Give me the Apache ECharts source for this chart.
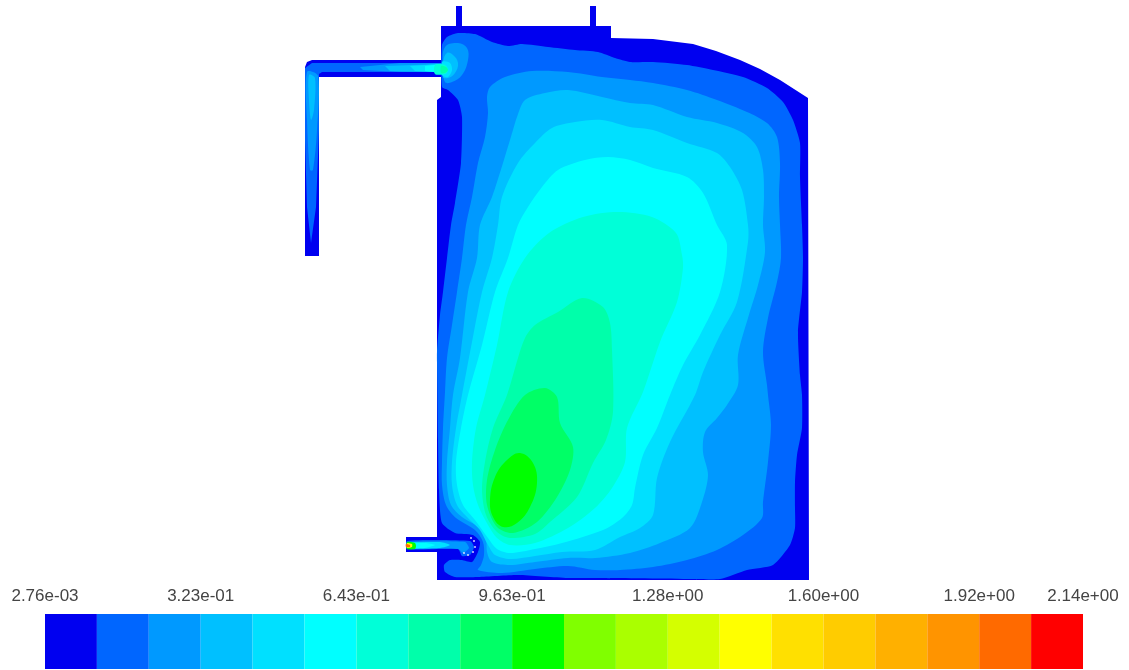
<!DOCTYPE html>
<html>
<head>
<meta charset="utf-8">
<style>html,body{margin:0;padding:0;background:#fff}#c{width:1129px;height:670px}</style>
<script src="https://cdn.jsdelivr.net/npm/echarts@6/dist/echarts.min.js"></script>
</head>
<body>
<div id="c"></div>
<script>
const bandColors = ['#0000f0','#0066ff','#0099ff','#00c0ff','#00e0ff','#00ffff','#00ffd8','#00ffaa','#00ff66','#00ff00','#80ff00','#aaff00','#d4ff00','#ffff00','#ffe000','#ffcc00','#ffb000','#ff9400','#ff6a00','#ff0000'];
const tickLabels = {0:'2.76e-03',3:'3.23e-01',6:'6.43e-01',9:'9.63e-01',12:'1.28e+00',15:'1.60e+00',18:'1.92e+00',20:'2.14e+00'};

const tankOutline = [[441,26],[456,26],[456,6],[462,6],[462,26],[590,26],[590,6],[596,6],[596,26],[611,26],[611,38],[653,39],[693,44],[716,51],[740,60],[760,69],[780,80],[808,98],[809,580],[437,580],[437,100],[441,97]];
const topPipeOutline = [[441,60],[312,60],[307,62],[305,67],[305,256],[319,256],[319,77],[441,77]];
const lowPipeOutline = [[406,537],[438,537],[438,552],[406,552]];

const tankL2 = [[442,45],[447,37],[458,33],[475,34],[492,42],[508,46],[522,44],[548,47],[575,50],[598,52],[615,58],[630,62],[653,62],[687,65],[713,70],[743,77],[767,88],[783,102],[793,120],[800,143],[800,177],[802,225],[803,258],[802,292],[798,332],[800,375],[802,395],[802,428],[797,455],[795,482],[795,508],[795,528],[790,545],[773,565],[747,570],[720,579],[692,579],[598,578],[568,578],[518,575],[478,577],[455,577],[445,572],[444,565],[450,560],[462,560],[472,562],[478,552],[480,542],[473,535],[455,533],[442,523],[439,490],[438,440],[437,362],[437,352],[440,315],[443,292],[447,258],[451,225],[455,203],[461,163],[462,117],[458,100],[448,90],[442,87]];
const tankL3 = [[487,97],[490,87],[505,77],[532,71],[568,72],[602,77],[630,80],[653,83],[687,90],[717,100],[747,112],[767,123],[777,137],[780,163],[779,197],[780,225],[781,258],[777,282],[768,318],[763,352],[767,385],[768,395],[771,425],[768,462],[763,502],[762,518],[743,535],[717,550],[687,560],[653,567],[620,570],[595,570],[568,566],[535,569],[502,573],[478,570],[481,565],[484,555],[483,542],[475,530],[456,518],[446,505],[442,485],[442,462],[443,428],[445,392],[447,358],[452,325],[457,292],[462,258],[466,225],[472,197],[478,163],[485,137],[488,113]];
const tankL4 = [[517,117],[525,100],[545,93],[568,90],[602,97],[630,103],[653,105],[687,117],[717,123],[743,133],[757,147],[763,170],[764,197],[763,225],[765,252],[758,285],[748,318],[738,355],[738,385],[727,405],[717,418],[705,432],[703,452],[708,475],[702,502],[690,528],[660,543],[630,553],[595,558],[568,558],[535,562],[510,565],[492,562],[487,552],[486,540],[478,527],[462,517],[451,505],[447,485],[447,462],[450,428],[453,395],[460,358],[468,292],[477,258],[480,225],[492,197],[503,163],[513,130]];
const tankL5 = [[535,143],[552,128],[575,122],[602,120],[630,127],[653,130],[687,143],[717,153],[730,167],[742,190],[748,225],[748,242],[737,302],[720,335],[703,372],[695,395],[670,442],[657,478],[653,515],[640,528],[620,537],[595,550],[562,552],[535,556],[510,559],[495,555],[488,545],[480,530],[468,518],[457,505],[452,485],[452,462],[456,428],[462,395],[472,342],[482,292],[492,258],[498,225],[502,197],[518,163]];
const tankL6 = [[542,187],[558,170],[585,160],[608,157],[630,160],[653,168],[687,177],[703,193],[717,225],[727,245],[720,292],[700,335],[683,365],[670,395],[657,428],[643,455],[635,488],[632,505],[622,518],[603,530],[562,543],[535,549],[510,553],[497,549],[488,538],[475,520],[463,505],[457,485],[456,462],[461,428],[468,395],[482,345],[495,292],[508,258],[518,225],[528,207]];
const tankL7 = [[549,233],[583,217],[618,212],[652,217],[676,233],[682,255],[683,268],[677,302],[660,342],[643,392],[627,428],[625,462],[612,488],[595,508],[568,528],[535,543],[510,545],[497,538],[488,525],[478,505],[473,485],[472,462],[476,428],[485,395],[497,345],[508,292],[525,258]];
const tankL8 = [[525,338],[535,325],[558,312],[582,298],[603,307],[610,323],[612,350],[613,412],[606,440],[593,463],[577,497],[550,522],[535,534],[510,538],[497,532],[486,515],[482,490],[485,462],[493,428],[507,395],[518,358]];
const tankL9 = [[545,388],[557,397],[560,423],[573,447],[570,470],[557,497],[537,522],[513,533],[497,527],[487,505],[487,480],[495,450],[508,420],[525,395]];
const tankL10 = [[520,453],[533,463],[537,483],[530,507],[517,523],[503,527],[493,517],[490,500],[495,477],[507,460]];

const blobL3 = [[445,47],[458,43],[467,48],[468,60],[462,75],[452,82],[445,82],[443,65]];
const blobL4 = [[447,53],[453,55],[458,63],[455,73],[448,78],[443,77],[443,62]];
const blobL5 = [[442,62],[450,63],[452,70],[448,77],[442,75]];
const blobL7 = [[435,65],[445,65],[448,70],[445,74],[435,74]];
const blobL8 = [[441,66],[446,67],[448,70],[445,73],[441,73]];

const topPipeL2 = [[441,63],[312,63],[305,68],[305,140],[307,207],[311,243],[316,207],[319,130],[319,74],[322,72],[441,72]];
const topPipeVertL3 = [[307,72],[318,76],[317,130],[313,170],[310,170],[307,120]];
const topPipeVertL4 = [[309,75],[315,78],[314,110],[311,120],[309,100]];
const topPipeJetL3 = [[360,67],[400,63],[441,63],[441,72],[400,72],[363,70]];
const topPipeJetL4 = [[385,66],[441,64],[441,72],[390,71]];
const topPipeJetL5 = [[410,66],[441,64],[441,72],[415,71]];
const topPipeJetL6 = [[425,66],[442,64],[442,73],[425,71]];

const lowPipeL2 = [[407,541],[470,541],[474,547],[470,555],[462,556],[458,549],[407,549]];
const lowPipeL3 = [[408,542],[465,542],[469,548],[463,553],[458,549],[408,548]];
const lowPipeL5 = [[408,543],[440,542],[450,545],[440,548],[408,548]];
const lowPipeL6 = [[408,543],[425,543],[435,545],[425,548],[408,548]];
const lowPipeL10 = [[407,542],[415,543],[416,546],[415,549],[407,549]];
const lowPipeL14 = [[407,543],[412,544],[412,547],[407,548]];
const lowPipeL19 = [[406,544],[410,545],[410,547],[406,547]];
const lowPipeDots = [[471,538],[474,541],[475,547],[473,552],[468,555],[464,553]];

// [band number (1 = lowest), ring, smooth]
const rings = [
  [1,tankOutline,0],[1,topPipeOutline,0],[1,lowPipeOutline,0],
  [2,topPipeL2,0],[3,topPipeVertL3,.3],[4,topPipeVertL4,.3],[3,topPipeJetL3,0],[4,topPipeJetL4,0],[5,topPipeJetL5,0],[6,topPipeJetL6,0],
  [2,tankL2,.2],[3,tankL3,.3],[4,tankL4,.3],[5,tankL5,.3],[6,tankL6,.3],[7,tankL7,.3],[8,tankL8,.3],[9,tankL9,.3],[10,tankL10,.4],
  [3,blobL3,.4],[4,blobL4,.4],[5,blobL5,.3],[7,blobL7,.3],[8,blobL8,.3],
  [2,lowPipeL2,.2],[3,lowPipeL3,.2],[5,lowPipeL5,.2],[6,lowPipeL6,.2],[10,lowPipeL10,.2],[14,lowPipeL14,.2],[19,lowPipeL19,.2]
];

const chart = echarts.init(document.getElementById('c'), null, {renderer:'canvas'});
chart.setOption({
  animation:false,
  backgroundColor:'#fff',
  grid:[
    {left:0,top:0,width:1129,height:670},
    {left:45,top:614,width:1038,height:55}
  ],
  xAxis:[
    {gridIndex:0,type:'value',min:0,max:1129,show:false},
    {gridIndex:1,type:'value',min:0,max:20,interval:1,position:'top',
     axisLine:{show:false},axisTick:{show:false},splitLine:{show:false},
     axisLabel:{show:true,margin:9,hideOverlap:false,showMinLabel:true,showMaxLabel:true,
       fontFamily:'Liberation Sans',fontSize:17,color:'#444',
       formatter:v=>tickLabels[v]||''}}
  ],
  yAxis:[
    {gridIndex:0,type:'value',min:0,max:670,inverse:true,show:false},
    {gridIndex:1,type:'value',min:0,max:1,show:false}
  ],
  series:[
    {type:'custom',xAxisIndex:0,yAxisIndex:0,coordinateSystem:'cartesian2d',clip:false,silent:true,
     data:rings.map((r,i)=>[r[1][0][0],r[1][0][1],i]),
     encode:{x:0,y:1},
     renderItem:(p,api)=>{
       const r=rings[api.value(2)];
       return {type:'polygon',shape:{points:r[1].map(q=>api.coord(q)),smooth:r[2]},style:{fill:bandColors[r[0]-1],stroke:null}};
     }},
    {type:'scatter',xAxisIndex:0,yAxisIndex:0,data:lowPipeDots,symbolSize:2,itemStyle:{color:'#fff'},silent:true,z:5},
    {type:'custom',xAxisIndex:1,yAxisIndex:1,coordinateSystem:'cartesian2d',clip:false,silent:true,
     data:bandColors.map((c,i)=>[i,1]),
     encode:{x:0,y:1},
     renderItem:(p,api)=>{
       const i=api.value(0), a=api.coord([i,1]), b=api.coord([i+1,0]);
       return {type:'rect',shape:{x:a[0],y:a[1],width:b[0]-a[0],height:b[1]-a[1]},style:{fill:bandColors[i]}};
     }}
  ]
});
</script>
</body>
</html>
